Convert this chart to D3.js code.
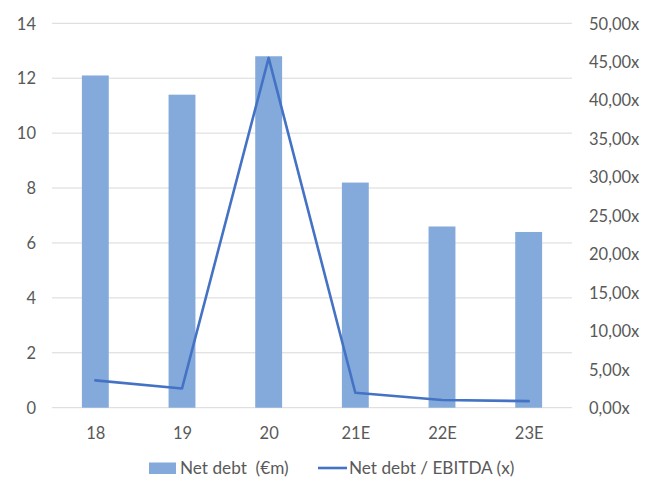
<!DOCTYPE html>
<html>
<head>
<meta charset="utf-8">
<script src="https://cdn.jsdelivr.net/npm/d3@7"></script>
<style>
  html, body { margin: 0; padding: 0; background: #fff; }
  svg text { font-family: "Lato", "Open Sans", sans-serif; fill: #595959; white-space: pre; }
</style>
</head>
<body>
<svg id="chart" width="652" height="479"></svg>
<script>
const categories = ["18", "19", "20", "21E", "22E", "23E"];
const netDebt = [12.1, 11.4, 12.8, 8.2, 6.6, 6.4];
const netDebtEbitda = [3.55, 2.5, 45.5, 1.95, 1.0, 0.85];
const leftTicks = [0, 2, 4, 6, 8, 10, 12, 14];
const rightTicks = [0, 5, 10, 15, 20, 25, 30, 35, 40, 45, 50];
const seriesNames = ["Net debt  (€m)", "Net debt / EBITDA (x)"];

const svg = d3.select("#chart");
const margin = { left: 52, right: 80, top: 23, bottom: 71 };
const W = 652, H = 479;
const x0 = margin.left, x1 = W - margin.right;
const yTop = 23.3, yBot = 407.7;

const x = d3.scaleBand().domain(categories).range([x0, x1]).paddingInner(0.69).paddingOuter(0.345);
const xc = d3.scalePoint().domain(categories).range([x0, x1]).padding(0.5);
const yL = d3.scaleLinear().domain([0, 14]).range([yBot, yTop]);
const yR = d3.scaleLinear().domain([0, 50]).range([yBot, yTop]);

// gridlines
svg.append("g").selectAll("line").data(leftTicks).join("line")
  .attr("x1", x0).attr("x2", x1)
  .attr("y1", d => yL(d)).attr("y2", d => yL(d))
  .attr("stroke", "#d9d9d9").attr("stroke-width", 1);

// bars
svg.append("g").selectAll("rect").data(netDebt).join("rect")
  .attr("x", (d, i) => x(categories[i]))
  .attr("width", x.bandwidth())
  .attr("y", d => yL(d))
  .attr("height", d => yL(0) - yL(d))
  .attr("fill", "#83AADB");

// line
const line = d3.line().x((d, i) => xc(categories[i])).y(d => yR(d));
svg.append("path").datum(netDebtEbitda)
  .attr("d", line)
  .attr("fill", "none")
  .attr("stroke", "#4472C4")
  .attr("stroke-width", 2.6)
  .attr("stroke-linejoin", "round")
  .attr("stroke-linecap", "round");

// left axis
const axL = d3.axisLeft(yL).tickValues(leftTicks).tickSize(0).tickPadding(0);
const gL = svg.append("g").attr("transform", `translate(${x0 - 16},0)`).call(axL);
gL.select(".domain").remove();
gL.selectAll("text").style("font-size", "16.5px").attr("text-anchor", "end").attr("dy", "0.35em");

// right axis
const fmt = d => d3.format(".2f")(d).replace(".", ",") + "x";
const axR = d3.axisRight(yR).tickValues(rightTicks).tickFormat(fmt).tickSize(0).tickPadding(0);
const gR = svg.append("g").attr("transform", `translate(${x1 + 17},0)`).call(axR);
gR.select(".domain").remove();
gR.selectAll("text").style("font-size", "16.5px").attr("dy", "0.35em");

// bottom axis
const axB = d3.axisBottom(xc).tickSize(0).tickPadding(0);
const gB = svg.append("g").attr("transform", `translate(0,${yBot + 20})`).call(axB);
gB.select(".domain").remove();
gB.selectAll("text").style("font-size", "16.5px").attr("dy", "0.71em");

// legend
const lg = svg.append("g");
lg.append("rect").attr("x", 149).attr("y", 462.5).attr("width", 27).attr("height", 11.5).attr("fill", "#83AADB");
lg.append("text").attr("x", 180).attr("y", 468).attr("dy", "0.35em").style("font-size", "17.2px").text(seriesNames[0]);
lg.append("line").attr("x1", 318).attr("x2", 347).attr("y1", 468).attr("y2", 468)
  .attr("stroke", "#4472C4").attr("stroke-width", 2.6);
lg.append("text").attr("x", 349).attr("y", 468).attr("dy", "0.35em").style("font-size", "17.2px").text(seriesNames[1]);
</script>
</body>
</html>
